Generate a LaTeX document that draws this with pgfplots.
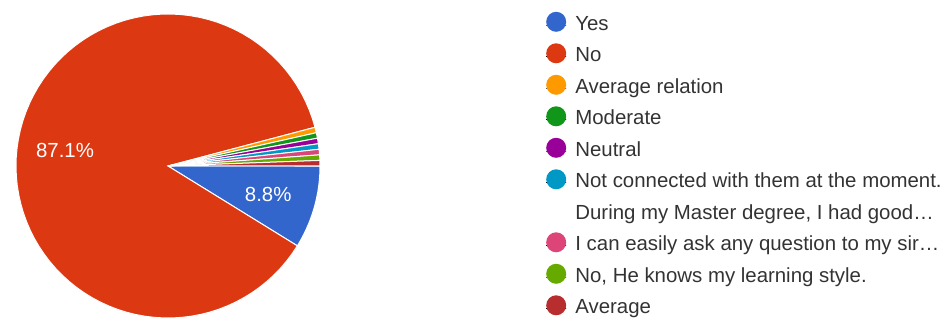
\documentclass[border=0pt]{standalone}
\usepackage{fontspec}
\setmainfont{Liberation Sans}
\usepackage{pgfplots}
\pgfplotsset{compat=1.18}
\definecolor{cYes}{HTML}{3366CC}
\definecolor{cNo}{HTML}{DC3912}
\definecolor{cAvgRel}{HTML}{FF9900}
\definecolor{cMod}{HTML}{109618}
\definecolor{cNeu}{HTML}{990099}
\definecolor{cNot}{HTML}{0099C6}
\definecolor{cEasy}{HTML}{DD4477}
\definecolor{cKnows}{HTML}{66AA00}
\definecolor{cAvg}{HTML}{B82E2E}
\definecolor{legtext}{HTML}{333333}
\tikzset{lbl/.style={text=white, font=\fontsize{20.4bp}{24bp}\selectfont, inner sep=0pt}}
\newcommand\cum{0}
% colour, percentage, label
\newcommand{\slice}[3]{%
  \pgfmathsetmacro\sa{-3.6*(\cum+#2)}%
  \pgfmathsetmacro\sb{-3.6*\cum}%
  \pgfmathsetmacro\md{-3.6*(\cum+#2/2)}%
  \pgfmathsetmacro\lx{0.685*cos(\md)}%
  \pgfmathsetmacro\ly{0.685*sin(\md)}%
  \pgfmathsetmacro\newcum{\cum+#2}%
  \xdef\cum{\newcum}%
  \edef\doit{\noexpand\addplot[fill=#1, draw=white, line width=1bp, domain=\sa:\sb, samples=90, forget plot] ({cos(x)},{sin(x)}) -- (axis cs:0,0) -- cycle;}%
  \doit
  \if\relax\detokenize{#3}\relax\else
    \edef\dolbl{\noexpand\node[lbl] at (axis cs:\lx,\ly) {\unexpanded{#3}};}%
    \dolbl
  \fi
}
\newcommand\legdot[1]{\addlegendimage{legend image code/.code={\useasboundingbox (-10bp,0bp) rectangle (10bp,0bp); \fill[#1,draw=none,overlay] (0bp,3.2bp) circle (10bp);}}}
\begin{document}
\begin{tikzpicture}
\path[use as bounding box, clip] (0,0) rectangle (947bp,318bp);
\begin{axis}[
  at={(168bp,152bp)}, anchor=center,
  scale only axis, width=304bp, height=304bp,
  xmin=-1, xmax=1, ymin=-1, ymax=1,
  hide axis, clip=false,
  legend style={at={(1.7434,0.9967)}, anchor=north west, draw=none, fill=none,
    inner sep=0pt, outer sep=0pt,
    font=\fontsize{20.4bp}{24bp}\selectfont, text=legtext,
    nodes={inner sep=0pt, text height=15bp, text depth=5bp},
    row sep=11.5bp, column sep=9bp},
  legend cell align=left,
]
\slice{cYes}{8.8}{8.8\%}
\slice{cNo}{87.1}{87.1\%}
\slice{cAvgRel}{0.5857}{}
\slice{cMod}{0.5857}{}
\slice{cNeu}{0.5857}{}
\slice{cNot}{0.5857}{}
\slice{cEasy}{0.5857}{}
\slice{cKnows}{0.5857}{}
\slice{cAvg}{0.5857}{}
\legdot{cYes}
\legdot{cNo}
\legdot{cAvgRel}
\legdot{cMod}
\legdot{cNeu}
\legdot{cNot}
\addlegendimage{empty legend}
\legdot{cEasy}
\legdot{cKnows}
\legdot{cAvg}
\legend{Yes, No, Average relation, Moderate, Neutral,
  Not connected with them at the moment.,
  {During my Master degree, I had good…},
  I can easily ask any question to my sir…,
  {No, He knows my learning style.},
  Average}
\end{axis}
\end{tikzpicture}
\end{document}
